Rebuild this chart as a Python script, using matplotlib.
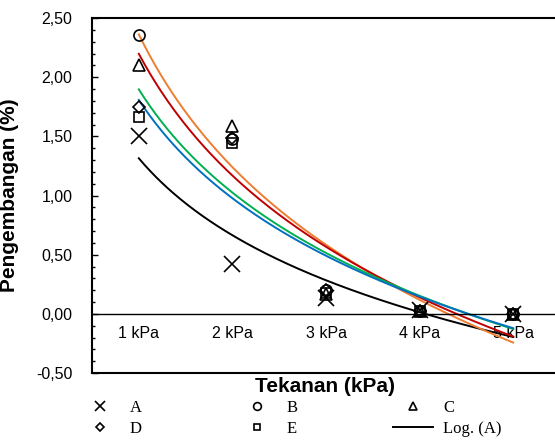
import numpy as np
import matplotlib
matplotlib.use("Agg")
import matplotlib.pyplot as plt
from matplotlib.ticker import MultipleLocator, FuncFormatter
from matplotlib.lines import Line2D

# data
pressure = [1, 2, 3, 4, 5]
tick_labels = ["1 kPa", "2 kPa", "3 kPa", "4 kPa", "5 kPa"]
swell_a = [1.50, 0.42, 0.13, 0.03, 0.00]
swell_b = [2.36, 1.48, 0.20, 0.02, 0.00]
swell_c = [2.10, 1.59, 0.17, 0.02, 0.00]
swell_d = [1.75, 1.49, 0.20, 0.02, 0.00]
swell_e = [1.66, 1.44, 0.18, 0.02, 0.00]

series = [
    ("A", swell_a, "x", 11, "black"),
    ("B", swell_b, "o", 8, "#ED7D31"),
    ("C", swell_c, "^", 8.5, "#C00000"),
    ("D", swell_d, "D", 6, "#00B050"),
    ("E", swell_e, "s", 6.5, "#0070C0"),
]

plt.rcParams['font.family'] = ['Liberation Sans', 'DejaVu Sans']

fig = plt.figure(figsize=(5.55, 4.40), dpi=100)
ax = fig.add_axes([92/555, 1 - 373/440, (560 - 92)/555, 355/440])

x = np.array(pressure, dtype=float)
xs = np.linspace(1, 5, 200)
handles = {}
for name, vals, mk, ms, col in series:
    # logarithmic trend line, same as the spreadsheet fit
    a, b = np.polyfit(np.log(x), np.array(vals), 1)
    ln, = ax.plot(xs, a*np.log(xs) + b, color=col, lw=1.4, zorder=2)
    if name == "A":
        handles["Log. (A)"] = ln
    sc, = ax.plot(x, vals, linestyle="none", marker=mk, markersize=ms,
                  markerfacecolor="none", markeredgecolor="black",
                  markeredgewidth=1.2, zorder=3)
    handles[name] = sc

ax.set_xlim(0.5, 5.5)
ax.set_ylim(-0.5, 2.5)

ax.spines['bottom'].set_position(('data', 0))
ax.spines['bottom'].set_linewidth(1.0)
for s in ['left', 'top', 'right']:
    ax.spines[s].set_linewidth(1.5)
ax.add_line(Line2D([0, 1], [0, 0], transform=ax.transAxes, color='black',
                   lw=1.5, clip_on=False))

ax.set_xticks(pressure)
ax.set_xticklabels(tick_labels, fontsize=11.5)
ax.tick_params(axis='x', length=0, pad=9)

ax.yaxis.set_major_locator(MultipleLocator(0.5))
ax.yaxis.set_minor_locator(MultipleLocator(0.1))
ax.yaxis.set_major_formatter(FuncFormatter(lambda v, p: f"{v:.2f}".replace('.', ',')))
ax.tick_params(axis='y', which='major', direction='in', length=4, width=1, pad=14, labelsize=11.5)
ax.tick_params(axis='y', which='minor', direction='in', length=2.5, width=1)

ax.set_ylabel("Pengembangan (%)", fontsize=15, fontweight='bold')
ax.yaxis.set_label_coords(-0.157, 0.5)
ax.set_xlabel("Tekanan (kPa)", fontsize=15, fontweight='bold')
ax.xaxis.set_label_coords(0.497, -0.012)

order = ["A", "D", "B", "E", "C", "Log. (A)"]
fig.legend([handles[k] for k in order], order, loc='upper left',
           bbox_to_anchor=(80/555, 1 - 400/440), ncol=3, frameon=False,
           prop={'family': 'Liberation Serif', 'size': 12},
           markerscale=0.7, handlelength=2.4, handletextpad=0.6,
           columnspacing=5.7, labelspacing=0.3, borderpad=0, borderaxespad=0)

fig.savefig("out.png", dpi=100)
